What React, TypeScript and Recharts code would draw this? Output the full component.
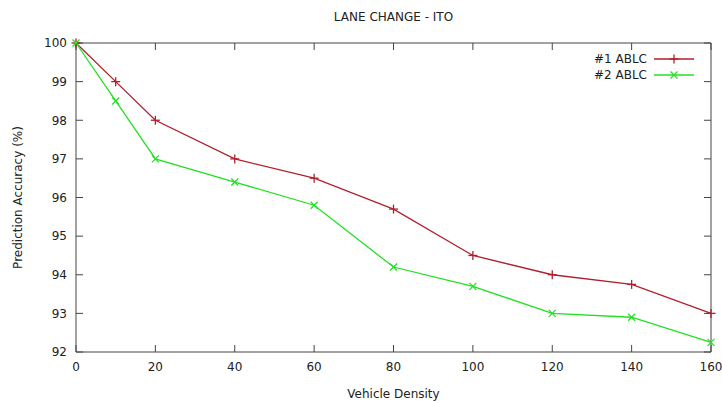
import React from 'react';
import { LineChart, Line, XAxis, YAxis } from 'recharts';

const densities = [0, 10, 20, 40, 60, 80, 100, 120, 140, 160];
const ablc1 = [100, 99, 98, 97, 96.5, 95.7, 94.5, 94, 93.75, 93];
const ablc2 = [100, 98.5, 97, 96.4, 95.8, 94.2, 93.7, 93, 92.9, 92.25];
const xTicks = [0, 20, 40, 60, 80, 100, 120, 140, 160];
const yTicks = [92, 93, 94, 95, 96, 97, 98, 99, 100];

const RED = '#b0202e';
const GREEN = '#22e022';
const INK = '#222';
const AXIS = '#444';
const FONT = '"DejaVu Sans", Verdana, sans-serif';

const data = densities.map((d, i) => ({ density: d, a1: ablc1[i], a2: ablc2[i] }));

function Plus({ cx, cy, color }: { cx: number; cy: number; color: string }) {
  const s = 4.5;
  return (
    <g stroke={color} strokeWidth={1.3}>
      <line x1={cx - s} y1={cy} x2={cx + s} y2={cy} />
      <line x1={cx} y1={cy - s} x2={cx} y2={cy + s} />
    </g>
  );
}

function Cross({ cx, cy, color }: { cx: number; cy: number; color: string }) {
  const s = 3.5;
  return (
    <g stroke={color} strokeWidth={1.3}>
      <line x1={cx - s} y1={cy - s} x2={cx + s} y2={cy + s} />
      <line x1={cx - s} y1={cy + s} x2={cx + s} y2={cy - s} />
    </g>
  );
}

const legendRows = [
  { name: '#1 ABLC', color: RED, Mark: Plus },
  { name: '#2 ABLC', color: GREEN, Mark: Cross },
];

export default function App() {
  return (
    <div style={{ position: 'absolute', left: 0, top: 0, width: 722, height: 403, background: '#fff', fontFamily: FONT }}>
      <div style={{ position: 'absolute', top: 10, left: 0, width: 787, textAlign: 'center', fontSize: 12, color: INK }}>
        LANE CHANGE - ITO
      </div>
      <LineChart width={722} height={403} data={data} margin={{ top: 42, right: 10, left: 0, bottom: 0 }}>
        <XAxis
          xAxisId="bottom"
          type="number"
          dataKey="density"
          domain={[0, 160]}
          ticks={xTicks}
          height={51}
          tickSize={-7}
          tickMargin={17}
          stroke={AXIS}
          tick={{ fill: INK, fontSize: 12, fontFamily: FONT }}
          label={{ value: 'Vehicle Density', position: 'insideBottom', offset: 5, fill: INK, fontSize: 12, fontFamily: FONT }}
        />
        <XAxis
          xAxisId="top"
          orientation="top"
          type="number"
          dataKey="density"
          domain={[0, 160]}
          ticks={xTicks}
          height={1}
          tickSize={-7}
          tickFormatter={() => ''}
          stroke={AXIS}
        />
        <YAxis
          yAxisId="left"
          type="number"
          domain={[92, 100]}
          ticks={yTicks}
          width={76}
          tickSize={-7}
          tickMargin={16}
          stroke={AXIS}
          tick={{ fill: INK, fontSize: 12, fontFamily: FONT }}
          label={{ value: 'Prediction Accuracy (%)', angle: -90, position: 'insideLeft', offset: 18, fill: INK, fontSize: 12, fontFamily: FONT, style: { textAnchor: 'middle' } }}
        />
        <YAxis
          yAxisId="right"
          orientation="right"
          type="number"
          domain={[92, 100]}
          ticks={yTicks}
          width={1}
          tickSize={-7}
          tickFormatter={() => ''}
          stroke={AXIS}
        />
        <Line
          xAxisId="bottom"
          yAxisId="left"
          dataKey="a1"
          stroke={RED}
          strokeWidth={1.3}
          isAnimationActive={false}
          dot={(p: any) => <Plus key={`p${p.index}`} cx={p.cx} cy={p.cy} color={RED} />}
        />
        <Line
          xAxisId="top"
          yAxisId="right"
          dataKey="a2"
          stroke={GREEN}
          strokeWidth={1.3}
          isAnimationActive={false}
          dot={(p: any) => <Cross key={`c${p.index}`} cx={p.cx} cy={p.cy} color={GREEN} />}
        />
      </LineChart>
      <div style={{ position: 'absolute', top: 51, left: 559, fontSize: 12, color: INK }}>
        {legendRows.map(({ name, color, Mark }) => (
          <div key={name} style={{ display: 'flex', alignItems: 'center', height: 16, justifyContent: 'flex-end' }}>
            <span style={{ width: 88, textAlign: 'right' }}>{name}</span>
            <svg width={46} height={16} style={{ marginLeft: 5 }}>
              <line x1={2} y1={8} x2={42} y2={8} stroke={color} strokeWidth={1.3} />
              <Mark cx={22} cy={8} color={color} />
            </svg>
          </div>
        ))}
      </div>
    </div>
  );
}
